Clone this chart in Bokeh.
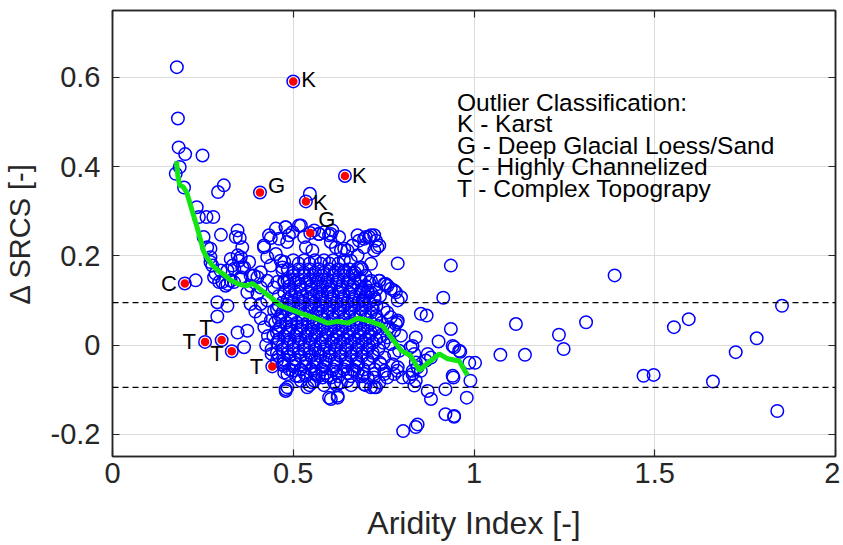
from bokeh.plotting import figure
from bokeh.models import (LinearAxis, FixedTicker, Range1d, Span, Label, NumeralTickFormatter,
                          ColumnDataSource, CustomJSTickFormatter)
from bokeh.embed import file_html
from bokeh.resources import INLINE
from bokeh.core.properties import value

# ---------------- data ----------------
x_ticks = [0, 0.5, 1, 1.5, 2]
y_ticks = [-0.2, 0, 0.2, 0.4, 0.6]
thresholds = [0.095, -0.095]

# scattered sites (Aridity index, delta SRCS)
site_ai = [
    0.178, 0.181, 0.183, 0.201, 0.249, 0.186, 0.175, 0.198, 0.308, 0.292, 0.546, 0.233, 0.239, 0.260, 0.279,
    0.300, 0.252, 0.346, 0.352, 0.452, 0.479, 0.521, 0.488, 0.438, 0.419, 0.558, 0.571, 0.599, 0.608,
    0.696, 0.710, 0.724, 0.738, 0.262, 0.271, 0.359, 0.355, 0.419, 0.433, 0.461, 0.483,
    0.327, 0.350, 0.364, 0.337, 0.318, 0.428, 0.452, 0.465, 0.438, 0.470, 0.410,
    0.271, 0.276, 0.285, 0.299, 0.230, 0.281, 0.304, 0.318, 0.336, 0.355, 0.382,
    0.401, 0.428, 0.456, 0.475, 0.382, 0.410, 0.447,
    0.936, 1.389, 1.116, 1.310, 1.235, 1.248, 1.073, 1.141, 1.553, 1.594, 1.852, 1.782, 1.724, 1.469, 1.497,
    1.661, 1.839, 1.003, 0.987, 0.990, 0.980, 0.945, 0.936, 0.945, 0.962, 0.943,
    0.853, 0.869, 0.902, 0.941, 0.959, 0.921, 0.872, 0.881, 0.921, 0.945, 0.844, 0.839, 0.804,
    0.839, 0.825, 0.872, 0.867, 0.844, 0.830, 0.821, 0.839, 0.835, 0.802, 0.788, 0.775, 0.779, 0.793,
    0.798, 0.784, 0.765, 0.788, 0.789, 0.915, 0.770, 0.784, 0.789, 0.756, 0.760, 0.789, 0.941,
    0.479, 0.498, 0.516, 0.530, 0.535, 0.553, 0.571, 0.585, 0.604, 0.618, 0.632, 0.650, 0.664, 0.682,
    0.701, 0.715, 0.729, 0.733, 0.696, 0.678, 0.659, 0.641, 0.664, 0.687, 0.715, 0.738, 0.752, 0.706,
    0.724, 0.692, 0.475, 0.470, 0.484,
    0.475, 0.484, 0.507, 0.502, 0.521, 0.535, 0.553, 0.562, 0.581, 0.604, 0.613, 0.632, 0.650, 0.678,
    0.696, 0.724, 0.715, 0.738, 0.752, 0.599, 0.623, 0.479, 0.729,
    0.290, 0.318, 0.290, 0.346, 0.373, 0.364, 0.341, 0.346, 0.271, 0.332, 0.359, 0.378, 0.295, 0.313,
    0.327, 0.355, 0.391, 0.373, 0.401, 0.410, 0.428, 0.382, 0.447, 0.438, 0.470, 0.498, 0.484, 0.539,
    0.558, 0.604, 0.623,
    0.779, 0.798, 0.761, 0.738, 0.706, 0.687, 0.678, 0.715, 0.724, 0.678, 0.641, 0.627, 0.604,
    0.770, 0.779, 0.760, 0.770, 0.752, 0.789, 0.779, 0.742, 0.724, 0.706, 0.669, 0.696, 0.724, 0.760,
    0.752, 0.830, 0.835, 0.839, 0.853, 0.830, 0.881,
    0.420, 0.430, 0.425, 0.440, 0.455, 0.410, 0.395, 0.475, 0.479,
]
site_dsrcs = [
    0.623, 0.508, 0.443, 0.428, 0.425, 0.399, 0.384, 0.353, 0.358, 0.343, 0.339, 0.309, 0.287, 0.287, 0.287,
    0.247, 0.242, 0.257, 0.240, 0.261, 0.264, 0.268, 0.246, 0.240, 0.223, 0.257, 0.249, 0.246, 0.257,
    0.238, 0.242, 0.246, 0.223, 0.219, 0.216, 0.219, 0.197, 0.219, 0.246, 0.238, 0.231,
    0.193, 0.189, 0.174, 0.171, 0.167, 0.197, 0.204, 0.189, 0.178, 0.174, 0.163,
    0.197, 0.178, 0.160, 0.167, 0.145, 0.152, 0.141, 0.137, 0.141, 0.152, 0.156,
    0.152, 0.144, 0.141, 0.144, 0.133, 0.129, 0.129,
    0.178, 0.156, 0.047, 0.051, 0.023, -0.009, -0.022, -0.022, 0.040, 0.058, 0.088, 0.015, -0.016, -0.069, -0.067,
    -0.082, -0.148, -0.040, -0.040, -0.080, -0.118, -0.159, 0.036, -0.005, -0.015, -0.073,
    0.070, 0.066, 0.008, -0.002, -0.013, -0.099, -0.103, -0.121, -0.155, -0.161, -0.178, -0.184, -0.193,
    0.017, -0.005, -0.020, -0.035, -0.050, -0.058, -0.073, -0.080, -0.091, -0.073, -0.058, -0.043, -0.020, -0.013,
    0.021, 0.047, 0.040, 0.051, 0.183, 0.106, 0.126, 0.118, 0.100, 0.137, 0.073, 0.055, -0.069,
    0.264, 0.253, 0.268, 0.242, 0.219, 0.212, 0.249, 0.253, 0.249, 0.219, 0.212, 0.212, 0.223, 0.234,
    0.242, 0.246, 0.234, 0.219, 0.219, 0.201, 0.189, 0.167, 0.160, 0.174, 0.144, 0.144, 0.137, 0.122,
    0.107, 0.100, 0.186, 0.167, 0.144,
    -0.062, -0.065, -0.069, -0.047, -0.080, -0.069, -0.084, -0.065, -0.073, -0.073, -0.084, -0.084, -0.080, -0.062,
    -0.065, -0.073, -0.095, -0.084, -0.065, -0.118, -0.118, -0.103, -0.095,
    0.096, 0.088, 0.064, 0.028, 0.032, -0.005, 0.242, 0.201, 0.186, 0.178, 0.174, 0.186, 0.141, 0.133,
    0.144, 0.148, 0.156, 0.118, 0.115, 0.092, 0.100, 0.092, 0.077, 0.055, -0.043, -0.058, -0.095, -0.095,
    -0.080, -0.121, -0.114,
    0.122, 0.107, 0.133, 0.144, 0.118, 0.144, 0.171, 0.182, 0.212, 0.246, 0.216, 0.242, 0.231,
    0.062, 0.032, 0.017, 0.002, -0.028, -0.050, -0.065, -0.043, -0.065, -0.073, -0.058, -0.088, -0.095, -0.073,
    -0.058, -0.002, -0.020, -0.039, -0.058, -0.065, -0.028,
    0.040, 0.020, 0.000, -0.020, -0.035, 0.060, 0.075, -0.047, -0.099,
]

# densely packed sites of the central cloud, row by row
cloud_row_dsrcs = [0.19, 0.1825, 0.17, 0.1625, 0.155, 0.1475, 0.14, 0.1325, 0.125, 0.1175, 0.11, 0.1025,
                   0.095, 0.0875, 0.08, 0.0725, 0.065, 0.0575, 0.05, 0.0425, 0.035, 0.0275, 0.02, 0.0125,
                   0.005, -0.0025, -0.01, -0.0175, -0.025, -0.0325, -0.04, -0.0475, -0.055, -0.0625,
                   -0.07, -0.09]
cloud_row_ai = [
    [0.50, 0.53, 0.56, 0.585, 0.61, 0.64],
    [0.515, 0.545, 0.575, 0.60, 0.625],
    [0.485, 0.515, 0.545, 0.57, 0.60, 0.625, 0.655, 0.69],
    [0.50, 0.53, 0.56, 0.585, 0.615, 0.64, 0.67],
    [0.50, 0.53, 0.555, 0.58, 0.61, 0.64, 0.67, 0.70],
    [0.49, 0.515, 0.545, 0.57, 0.595, 0.625, 0.655, 0.685],
    [0.475, 0.505, 0.535, 0.565, 0.59, 0.62, 0.65, 0.67, 0.71],
    [0.49, 0.52, 0.55, 0.58, 0.605, 0.635, 0.665, 0.70],
    [0.49, 0.52, 0.55, 0.575, 0.60, 0.63, 0.66, 0.69, 0.73],
    [0.475, 0.505, 0.54, 0.565, 0.595, 0.625, 0.655, 0.685, 0.715],
    [0.46, 0.495, 0.525, 0.555, 0.58, 0.61, 0.64, 0.67, 0.70, 0.74],
    [0.485, 0.515, 0.545, 0.575, 0.605, 0.635, 0.665, 0.695, 0.725],
    [0.47, 0.50, 0.53, 0.56, 0.59, 0.62, 0.65, 0.68, 0.71],
    [0.46, 0.49, 0.52, 0.55, 0.58, 0.61, 0.64, 0.67, 0.70, 0.73],
    [0.455, 0.485, 0.515, 0.545, 0.57, 0.60, 0.63, 0.66, 0.69, 0.72, 0.75],
    [0.47, 0.50, 0.53, 0.565, 0.595, 0.625, 0.655, 0.685, 0.715],
    [0.465, 0.495, 0.525, 0.555, 0.58, 0.61, 0.64, 0.67, 0.70, 0.73],
    [0.46, 0.495, 0.525, 0.555, 0.585, 0.61, 0.64, 0.67, 0.70, 0.73],
    [0.45, 0.48, 0.51, 0.54, 0.565, 0.595, 0.625, 0.655, 0.685, 0.715, 0.745],
    [0.465, 0.495, 0.525, 0.555, 0.585, 0.615, 0.645, 0.675, 0.705, 0.735],
    [0.46, 0.49, 0.52, 0.55, 0.58, 0.605, 0.635, 0.665, 0.695, 0.725, 0.76],
    [0.455, 0.485, 0.51, 0.54, 0.565, 0.595, 0.625, 0.655, 0.685, 0.715],
    [0.445, 0.475, 0.505, 0.535, 0.56, 0.59, 0.62, 0.65, 0.68, 0.71, 0.74],
    [0.46, 0.49, 0.52, 0.55, 0.58, 0.61, 0.64, 0.67, 0.70, 0.73],
    [0.455, 0.485, 0.515, 0.545, 0.575, 0.605, 0.63, 0.66, 0.69, 0.72, 0.75],
    [0.47, 0.50, 0.53, 0.56, 0.59, 0.62, 0.65, 0.68, 0.71],
    [0.44, 0.47, 0.50, 0.53, 0.56, 0.585, 0.615, 0.645, 0.675, 0.705, 0.735],
    [0.455, 0.485, 0.515, 0.545, 0.57, 0.60, 0.63, 0.66, 0.69, 0.72],
    [0.46, 0.49, 0.52, 0.55, 0.575, 0.60, 0.63, 0.66, 0.69, 0.72],
    [0.475, 0.505, 0.535, 0.56, 0.59, 0.615, 0.645, 0.675, 0.705],
    [0.475, 0.505, 0.535, 0.565, 0.59, 0.62, 0.65, 0.68, 0.71, 0.74],
    [0.50, 0.53, 0.555, 0.585, 0.615, 0.645, 0.675],
    [0.49, 0.52, 0.55, 0.58, 0.61, 0.64, 0.665, 0.695, 0.725],
    [0.53, 0.56, 0.59, 0.62, 0.65],
    [0.515, 0.57, 0.595, 0.625, 0.66, 0.69],
    [0.545, 0.585, 0.62, 0.66, 0.70],
]

# outliers
outlier_ai = [0.500, 0.408, 0.535, 0.643, 0.547, 0.200, 0.256, 0.302, 0.330, 0.442]
outlier_dsrcs = [0.591, 0.342, 0.322, 0.379, 0.251, 0.138, 0.007, 0.011, -0.014, -0.048]
outlier_class = ["K", "G", "K", "K", "G", "C", "T", "T", "T", "T"]

# moving average
ma_ai = [0.177, 0.181, 0.186, 0.196, 0.205, 0.220, 0.234, 0.244, 0.252, 0.262, 0.275, 0.290, 0.308,
         0.327, 0.350, 0.372, 0.388, 0.410, 0.438, 0.465, 0.493, 0.521, 0.558, 0.595, 0.623, 0.650,
         0.678, 0.706, 0.747, 0.770, 0.798, 0.825, 0.849, 0.876, 0.904, 0.927, 0.959, 0.982]
ma_dsrcs = [0.412, 0.378, 0.358, 0.354, 0.343, 0.302, 0.264, 0.234, 0.210, 0.195, 0.180, 0.168, 0.158,
            0.145, 0.136, 0.133, 0.138, 0.124, 0.107, 0.088, 0.080, 0.071, 0.061, 0.049, 0.053, 0.049,
            0.060, 0.055, 0.043, 0.018, -0.012, -0.024, -0.057, -0.038, -0.020, -0.031, -0.036, -0.068]

legend_lines = ["Outlier Classification:", "K - Karst", "G - Deep Glacial Loess/Sand",
                "C - Highly Channelized", "T - Complex Topograpy"]

# ---------------- styles ----------------
FONT = "Liberation Sans"
AX = "#262626"
label_dx = [8, 8, 7, 7, 8, -8, -9, -9, -8, -9]
label_dy = [-2, -7, 1, 0, -14, 0, 0, -13, 2, 0]
label_align = ["left", "left", "left", "left", "left", "right", "right", "right", "right", "right"]

all_ai = list(site_ai)
all_ds = list(site_dsrcs)
for yv, row in zip(cloud_row_dsrcs, cloud_row_ai):
    all_ai.extend(row)
    all_ds.extend([yv] * len(row))
all_ai.extend(outlier_ai)
all_ds.extend(outlier_dsrcs)

p = figure(frame_width=723, frame_height=446, x_range=Range1d(0, 2), y_range=Range1d(-0.25, 0.75),
           output_backend="svg", toolbar_location=None,
           min_border_left=112, min_border_right=5, min_border_top=10, min_border_bottom=80)
p.background_fill_color = "white"
p.border_fill_color = "white"
p.outline_line_color = AX
p.outline_line_width = 1.5

for ax, ticks in ((p.xaxis[0], x_ticks), (p.yaxis[0], y_ticks)):
    ax.ticker = FixedTicker(ticks=ticks)
    ax.formatter = NumeralTickFormatter(format="0.[0]")
    ax.major_tick_in = 7
    ax.major_tick_out = 0
    ax.minor_tick_line_color = None
    ax.axis_line_color = AX
    ax.axis_line_width = 1.5
    ax.major_tick_line_color = AX
    ax.major_tick_line_width = 1.2
    ax.major_label_text_font = FONT
    ax.major_label_text_font_size = "29px"
    ax.major_label_text_color = AX
    ax.axis_label_text_font = FONT
    ax.axis_label_text_font_style = "normal"
    ax.axis_label_text_color = AX

p.xaxis.axis_label = "Aridity Index [-]"
p.yaxis.axis_label = "\u0394 SRCS [-]"
p.xaxis.axis_label_text_font_size = "32px"
p.yaxis.axis_label_text_font_size = "29px"
p.xaxis.major_label_standoff = 6
p.yaxis.major_label_standoff = 12
p.xaxis.axis_label_standoff = 19
p.yaxis.axis_label_standoff = 12

blank = CustomJSTickFormatter(code="return ''")
for loc, ticks in (("above", x_ticks), ("right", y_ticks)):
    ax2 = LinearAxis(ticker=FixedTicker(ticks=ticks), formatter=blank,
                     major_label_standoff=0, major_tick_in=7, major_tick_out=0,
                     minor_tick_line_color=None, axis_line_color=AX, axis_line_width=1.5,
                     major_tick_line_color=AX, major_tick_line_width=1.2)
    p.add_layout(ax2, loc)

p.xgrid.ticker = FixedTicker(ticks=x_ticks)
p.ygrid.ticker = FixedTicker(ticks=y_ticks)
p.grid.grid_line_color = "#dcdcdc"
p.grid.grid_line_width = 1

p.scatter(all_ai, all_ds, size=12.5, marker="circle", fill_color=None,
          line_color="#0000ff", line_width=1.5)
p.scatter(outlier_ai, outlier_dsrcs, size=8.5, marker="circle", fill_color="#ff0000",
          line_color=None)

p.line(ma_ai, ma_dsrcs, line_color="#14e614", line_width=5)

for t in thresholds:
    p.add_layout(Span(location=t, dimension="width", line_color="black",
                      line_dash="6 4", line_width=1.3))

src = ColumnDataSource(dict(x=outlier_ai, y=outlier_dsrcs, t=outlier_class,
                            dx=label_dx, dy=label_dy, al=label_align))
p.text(x="x", y="y", text="t", x_offset="dx", y_offset="dy", text_align="al",
       text_baseline="middle", text_font=value(FONT), text_font_size="22px",
       text_color="black", source=src)

for i, line in enumerate(legend_lines):
    p.add_layout(Label(x=0.953, y=0.529, y_offset=7 - 21.5 * i, text=line,
                       text_font=FONT, text_font_size="24.5px", text_color="black",
                       text_baseline="alphabetic"))

open("out.html", "w").write(file_html(p, INLINE))
